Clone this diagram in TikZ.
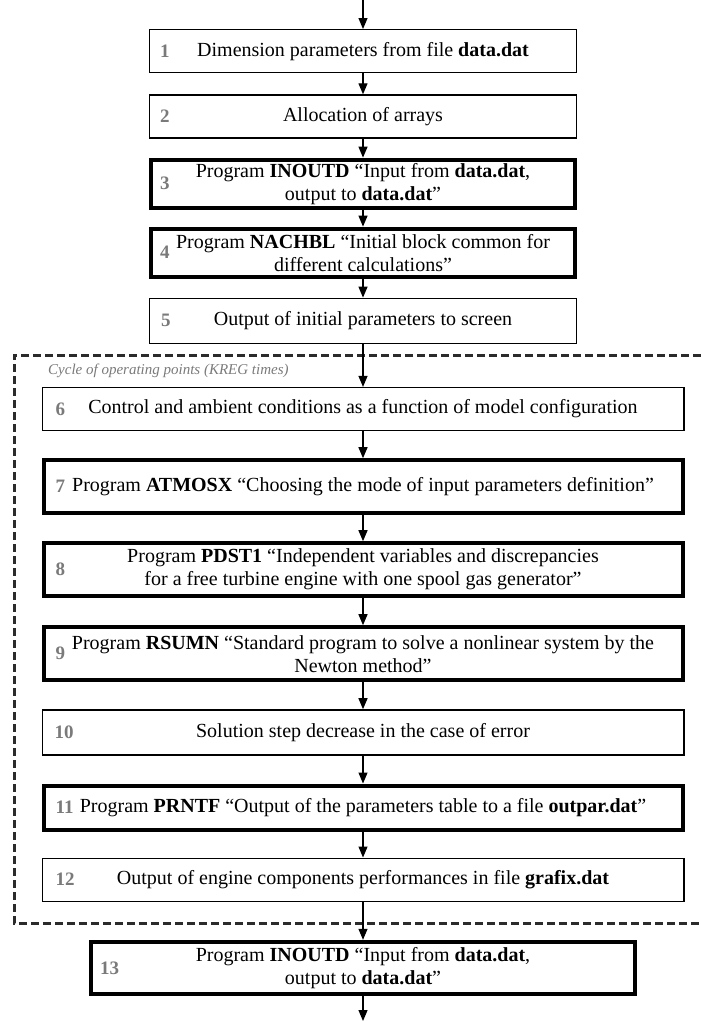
\documentclass[tikz,border=0pt]{standalone}
\usepackage{fontspec}
\setmainfont{Liberation Serif}
\usepackage{tikz}
\usetikzlibrary{arrows.meta,positioning}
\definecolor{framegray}{HTML}{2B2B2B}
\definecolor{numgray}{HTML}{7A7A7A}
\newcommand{\fname}[1]{\textbf{#1}}

\begin{document}
\begin{tikzpicture}[
  x=1pt, y=1pt,
  every node/.style={font=\fontsize{20}{23}\selectfont},
  box/.style={draw=black, fill=white, align=center, inner sep=2pt, line width=1.3pt},
  thinbox/.style={box, minimum height=43pt, minimum width=#1-1.3pt},
  thickbox/.style={box, line width=4pt, minimum height=48pt, minimum width=#1-4pt},
  num/.style={font=\fontsize{19}{21}\selectfont\bfseries, text=numgray, inner sep=0pt, anchor=west},
  cyclbl/.style={font=\fontsize{15}{18}\selectfont\itshape, text=numgray, inner sep=0pt, anchor=west},
  cycframe/.style={draw=framegray, line width=3pt, dash pattern=on 8pt off 4pt},
  arr/.style={-{Triangle[length=11pt,width=9pt]}, line width=1.2pt, color=black},
]
  \useasboundingbox (0,0) rectangle (701,-1021);

  % cycle of operating points
  \coordinate (ftop) at (701,-355);
  \coordinate (fleft) at (14,-923);
  \coordinate (fbot) at (701,-923);
  \draw[cycframe] (ftop) -| (fleft) -- (fbot);
  \node[cyclbl] (cyc) at (48,-371) {Cycle of operating points (KREG times)};

  \node[thinbox=428pt, anchor=north] (b1) at (363,-29) {Dimension parameters from file \fname{data.dat}};
  \node[thinbox=428pt, below=21pt of b1] (b2) {Allocation of arrays};
  \node[thickbox=428pt, below=19pt of b2] (b3) {Program \fname{INOUTD} “Input from \fname{data.dat},\\output to \fname{data.dat}”};
  \node[thickbox=428pt, below=17pt of b3] (b4) {Program \fname{NACHBL} “Initial block common for\\different calculations”};
  \node[thinbox=428pt, minimum height=45pt, below=19pt of b4] (b5) {Output of initial parameters to screen};
  \node[thinbox=643pt, below=43pt of b5] (b6) {Control and ambient conditions as a function of model configuration};
  \node[thickbox=643pt, minimum height=53pt, below=27pt of b6] (b7) {Program \fname{ATMOSX} “Choosing the mode of input parameters definition”};
  \node[thickbox=643pt, minimum height=53pt, below=26pt of b7] (b8) {Program \fname{PDST1} “Independent variables and discrepancies\\for a free turbine engine with one spool gas generator”};
  \node[thickbox=643pt, minimum height=53pt, below=27pt of b8] (b9) {Program \fname{RSUMN} “Standard program to solve a nonlinear system by the\\Newton method”};
  \node[thinbox=643pt, minimum height=45pt, below=27pt of b9] (b10) {Solution step decrease in the case of error};
  \node[thickbox=643pt, minimum height=44pt, below=28pt of b10] (b11) {Program \fname{PRNTF} “Output of the parameters table to a file \fname{outpar.dat}”};
  \node[thinbox=643pt, below=26pt of b11] (b12) {Output of engine components performances in file \fname{grafix.dat}};
  \node[thickbox=548pt, minimum height=52pt, below=38pt of b12] (b13) {Program \fname{INOUTD} “Input from \fname{data.dat},\\output to \fname{data.dat}”};

  % step numbers
  \node[num] (n1) at ([xshift=11pt]b1.west) {1};
  \node[num] (n2) at ([xshift=11pt]b2.west) {2};
  \node[num] (n3) at ([xshift=11pt]b3.west) {3};
  \node[num] (n4) at ([xshift=11pt]b4.west) {4};
  \node[num] (n5) at ([xshift=12pt]b5.west) {5};
  \node[num] (n6) at ([xshift=14pt]b6.west) {6};
  \node[num] (n7) at ([xshift=14pt]b7.west) {7};
  \node[num] (n8) at ([xshift=14pt]b8.west) {8};
  \node[num] (n9) at ([xshift=14pt]b9.west) {9};
  \node[num] (n10) at ([xshift=13pt]b10.west) {10};
  \node[num] (n11) at ([xshift=14pt]b11.west) {11};
  \node[num] (n12) at ([xshift=14pt]b12.west) {12};
  \node[num] (n13) at ([xshift=11pt]b13.west) {13};

  \coordinate (entry) at (363,0);
  \coordinate (exit) at (363,-1021);

  \draw[arr] (entry) -- (b1);
  \draw[arr] (b1) -- (b2);
  \draw[arr] (b2) -- (b3);
  \draw[arr] (b3) -- (b4);
  \draw[arr] (b4) -- (b5);
  \draw[arr] (b5) -- (b6);
  \draw[arr] (b6) -- (b7);
  \draw[arr] (b7) -- (b8);
  \draw[arr] (b8) -- (b9);
  \draw[arr] (b9) -- (b10);
  \draw[arr] (b10) -- (b11);
  \draw[arr] (b11) -- (b12);
  \draw[arr] (b12) -- (b13);
  \draw[arr] (b13) -- (exit);
\end{tikzpicture}
\end{document}
